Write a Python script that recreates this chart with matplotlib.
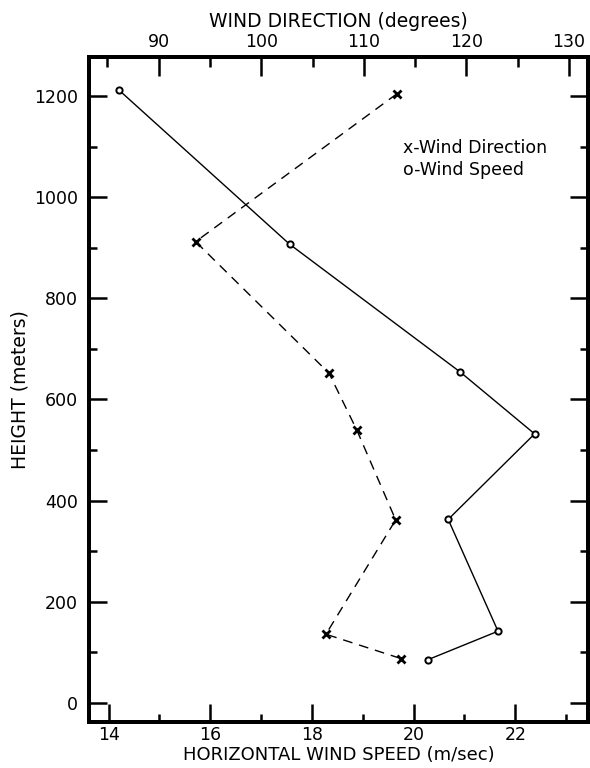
import matplotlib.pyplot as plt
from matplotlib.ticker import MultipleLocator

# Values
speed_height = [1212, 907, 654, 532, 363, 142, 86]
wind_speed = [14.20, 17.56, 20.92, 22.38, 20.68, 21.66, 20.29]

dir_height = [1204, 912, 652, 540, 362, 136, 88]
wind_direction = [113.2, 93.6, 106.6, 109.3, 113.1, 106.3, 113.6]

plt.rcParams['font.family'] = 'DejaVu Sans'

fig = plt.figure(figsize=(5.9, 7.68), dpi=100)
ax = fig.add_axes([89 / 590, 1 - 722 / 768, (588 - 89) / 590, (722 - 57) / 768])

# Wind speed (bottom axis)
ax.plot(wind_speed, speed_height, color='black', lw=1.0, marker='o', ms=4.5,
        mfc='white', mec='black', mew=1.4)
ax.set_xlim(13.615, 23.43)
ax.set_ylim(-37.5, 1277)

# Wind direction (top axis)
ax2 = ax.twiny()
ax2.plot(wind_direction, dir_height, color='black', lw=1.0, linestyle=(0, (7, 5)),
         marker='x', ms=6, mew=2.0)
ax2.set_xlim(83.2, 131.85)

ax.xaxis.set_major_locator(MultipleLocator(2))
ax.xaxis.set_minor_locator(MultipleLocator(1))
ax.yaxis.set_major_locator(MultipleLocator(200))
ax.yaxis.set_minor_locator(MultipleLocator(100))
ax2.xaxis.set_major_locator(MultipleLocator(10))
ax2.xaxis.set_minor_locator(MultipleLocator(5))

ax.tick_params(axis='x', which='both', direction='in', bottom=True, top=False)
ax.tick_params(axis='y', which='both', direction='in', left=True, right=True)
ax.tick_params(which='major', length=13, width=1.8, labelsize=12.5)
ax.tick_params(which='minor', length=5.5, width=1.8)
ax.tick_params(axis='x', pad=3)
ax.tick_params(axis='y', pad=8)
ax2.tick_params(which='both', direction='in')
ax2.tick_params(which='major', length=14, width=1.8, labelsize=12.5, pad=4)
ax2.tick_params(which='minor', length=7, width=1.8)

for a in (ax, ax2):
    for s in a.spines.values():
        s.set_linewidth(2.8)

ax.set_xlabel('HORIZONTAL WIND SPEED (m/sec)', fontsize=13)
ax.xaxis.set_label_coords(0.5, -0.036)
ax.set_ylabel('HEIGHT (meters)', fontsize=13.5)
ax.yaxis.set_label_coords(-0.12, 0.5)
ax2.set_xlabel('WIND DIRECTION (degrees)', fontsize=13.5)
ax2.xaxis.set_label_coords(0.5, 1.045)

# hand-lettered key
ax.text(0.629, 0.863, 'x-Wind Direction', transform=ax.transAxes, fontsize=12.5, va='center')
ax.text(0.629, 0.830, 'o-Wind Speed', transform=ax.transAxes, fontsize=12.5, va='center')

fig.savefig('out.png', dpi=100)
